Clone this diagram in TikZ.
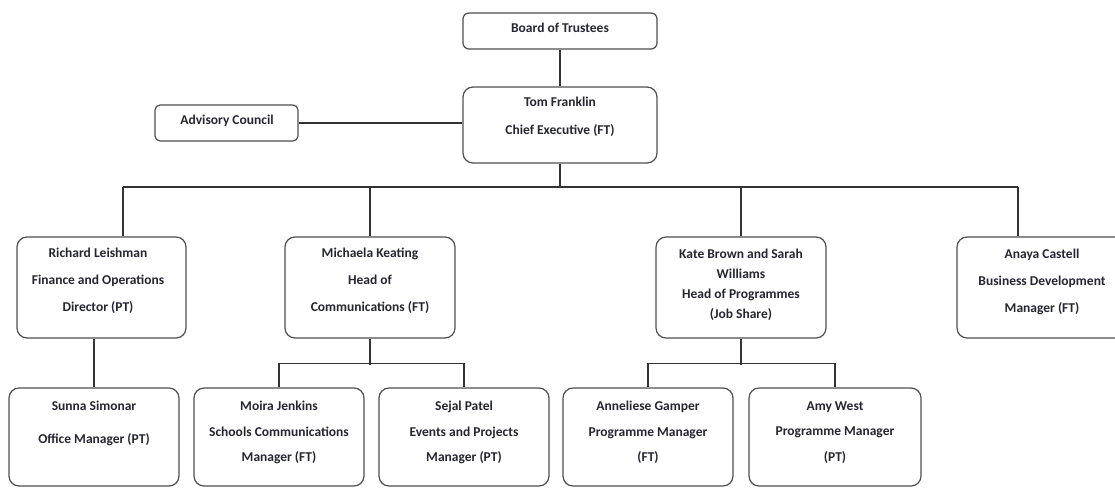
\documentclass[tikz,border=0pt]{standalone}
\usepackage{fontspec}
\setmainfont{Carlito}
\definecolor{borda}{HTML}{4F4F4F}
\definecolor{linha}{HTML}{333333}
\definecolor{texto}{HTML}{262633}
\begin{document}
\begin{tikzpicture}[x=1pt,y=-1pt,
		cargo/.style={draw=borda, line width=1.2pt, rounded corners=10pt, fill=white, inner sep=0pt},
		rotulo/.style={align=center, text=texto, font=\bfseries\fontsize{13.5}{#1}\selectfont, inner sep=0pt},
		rotulo/.default=27,
		liga/.style={draw=linha, line width=1.3pt}]
		\useasboundingbox[fill=white] (0,0) rectangle (1115,488);		% Margens
		
		% Topo
		\node[cargo, rounded corners=6pt, minimum width=194, minimum height=36] (board) at (560,31) {};
		\node[rotulo] (board-t) at (560,28) {Board of Trustees};
		\node[cargo, minimum width=194, minimum height=76] (ceo) at (560,125) {};
		\node[rotulo=28] (ceo-t) at (560,117) {Tom Franklin\\Chief Executive (FT)};
		\node[cargo, rounded corners=5pt, minimum width=143, minimum height=36] (adv) at (226.5,123) {};
		\node[rotulo] (adv-t) at (227,121) {Advisory Council};
		
		% Segundo nivel
		\node[cargo, minimum width=169, minimum height=101] (rl) at (101.5,287.5) {};
		\node[rotulo] (rl-t) at (98,281) {Richard Leishman\\Finance and Operations\\Director (PT)};
		\node[cargo, minimum width=170, minimum height=101] (mk) at (370,287.5) {};
		\node[rotulo] (mk-t) at (370,281) {Michaela Keating\\Head of\\Communications (FT)};
		\node[cargo, minimum width=170, minimum height=101] (kb) at (741,287.5) {};
		\node[rotulo=20] (kb-t) at (741,285) {Kate Brown and Sarah\\Williams\\Head of Programmes\\(Job Share)};
		\node[cargo, minimum width=170, minimum height=101] (ac) at (1042,287.5) {};
		\node[rotulo] (ac-t) at (1042,281.5) {Anaya Castell\\Business Development\\Manager (FT)};
		
		% Terceiro nivel
		\node[cargo, minimum width=170, minimum height=98] (ss) at (94,437) {};
		\node[rotulo=33] (ss-t) at (94,423.5) {Sunna Simonar\\Office Manager (PT)};
		\node[cargo, minimum width=170, minimum height=98] (mj) at (279,437) {};
		\node[rotulo=25.5] (mj-t) at (279,432.5) {Moira Jenkins\\Schools Communications\\Manager (FT)};
		\node[cargo, minimum width=170, minimum height=98] (sp) at (464,437) {};
		\node[rotulo=25.5] (sp-t) at (464,432.5) {Sejal Patel\\Events and Projects\\Manager (PT)};
		\node[cargo, minimum width=170, minimum height=98] (ag) at (648,437) {};
		\node[rotulo=25.5] (ag-t) at (648,432.5) {Anneliese Gamper\\Programme Manager\\(FT)};
		\node[cargo, minimum width=172, minimum height=98] (aw) at (835,437) {};
		\node[rotulo=25.5] (aw-t) at (835,432.5) {Amy West\\Programme Manager\\(PT)};
		
		% Linhas
		\coordinate (bus-l) at (123,187);
		\coordinate (bus-r) at (1018,187);
		\draw[liga] (board.south) -- (ceo.north);
		\draw[liga] (adv.east) -- (adv.east -| ceo.west);
		\draw[liga] (ceo.south) -- (ceo.south |- bus-l);
		\draw[liga] (bus-l) -- (bus-r);
		\draw[liga] (bus-l) -- (bus-l |- rl.north);
		\draw[liga] (mk.north) -- (mk.north |- bus-l);
		\draw[liga] (kb.north) -- (kb.north |- bus-l);
		\draw[liga] (bus-r) -- (bus-r |- ac.north);
		\draw[liga] (ss.north) -- (ss.north |- rl.south);
		\draw[liga] (mk.south) -- ++(0,26);
		\draw[liga] (mj.north) -- ++(0,-24) -| (sp.north);
		\draw[liga] (kb.south) -- ++(0,26);
		\draw[liga] (ag.north) -- ++(0,-24) -| (aw.north);
	\end{tikzpicture}
\end{document}
